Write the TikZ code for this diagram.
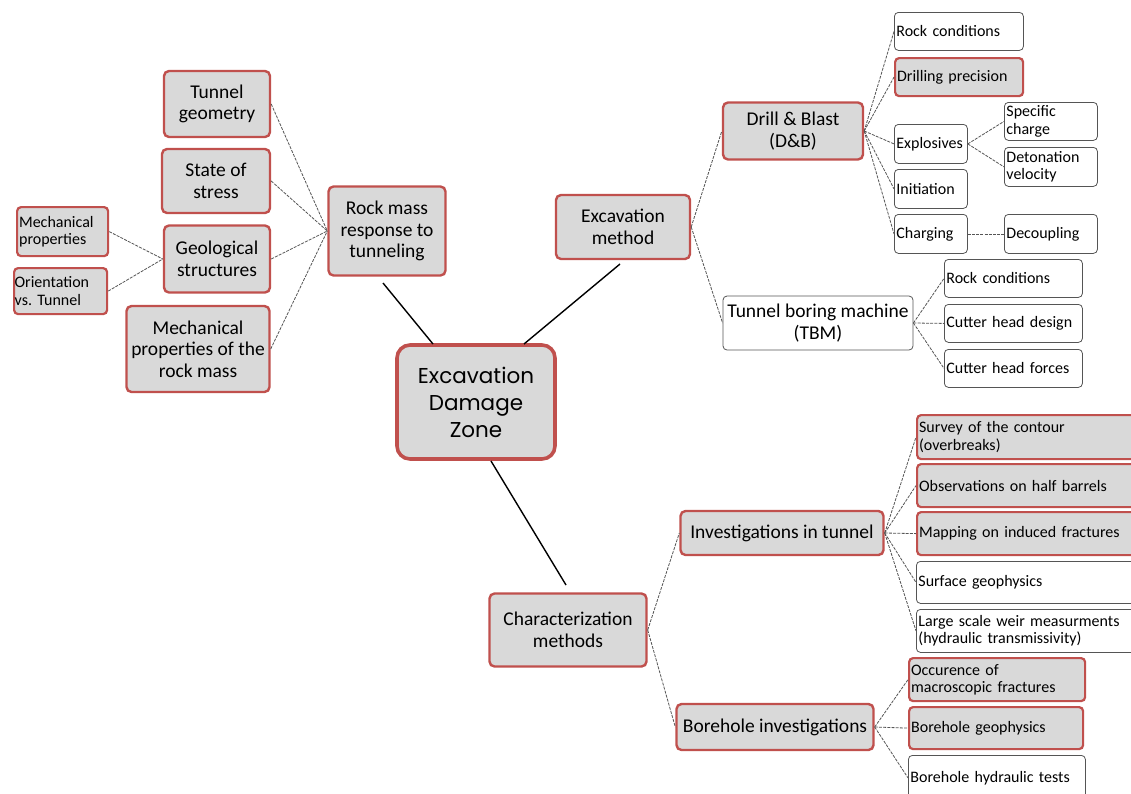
\documentclass[tikz,border=0pt]{standalone}
\usepackage{fontspec}
\setmainfont{Carlito}
\newfontfamily\zonefont{Poppins}
\usetikzlibrary{calc}

\definecolor{edzred}{RGB}{192,80,77}
\definecolor{edzgray}{RGB}{217,217,217}
\definecolor{edzline}{RGB}{85,85,85}

\tikzset{
  every node/.style={font=\fontsize{19.5}{21.5}\selectfont},
  hubsize/.style 2 args={minimum width=#1, minimum height=#2},
  boxsize/.style 2 args={text width=#1, minimum height=#2},
  topic/.style={draw=edzred, line width=2.4pt, fill=edzgray, rounded corners=5pt,
    align=center, inner sep=1pt},
  plaintopic/.style={draw=edzline, line width=0.8pt, fill=white, rounded corners=4pt,
    align=center, inner sep=1pt},
  redleaf/.style={draw=edzred, line width=2.2pt, fill=edzgray, rounded corners=4pt,
    anchor=north west, align=left, inner xsep=2pt, inner ysep=1pt,
    font=\fontsize{16}{17.5}\selectfont},
  whiteleaf/.style={draw=edzline, line width=0.8pt, fill=white, rounded corners=4pt,
    anchor=north west, align=left, inner xsep=2pt, inner ysep=1pt,
    font=\fontsize{16}{17.5}\selectfont},
  link/.style={edzline, line width=0.8pt, dash pattern=on 3pt off 1.2pt},
  trunk/.style={black, line width=1.4pt}
}

\begin{document}
\begin{tikzpicture}[x=1pt, y=-1pt]
  % Bounding box fixe (taille de l'image)
  \path[use as bounding box] (0,0) rectangle (1131,793);
  \fill[white] (0,0) rectangle (1131,793);

  % Central topic.
  \node[draw=edzred, line width=3.6pt, fill=edzgray, rounded corners=13pt,
    align=center, hubsize={158pt}{114pt},
    font=\zonefont\fontsize{21.5}{27}\selectfont] (edz) at (476,402)
    {Excavation\\Damage\\Zone};

  % Rock mass response branch.
  \node[topic, hubsize={117pt}{89pt}] (rmr) at (387,231) {Rock mass\\response to\\tunneling};
  \node[topic, hubsize={106pt}{66pt}] (geom) at (217,104) {Tunnel\\geometry};
  \node[topic, hubsize={108pt}{64pt}] (stress) at (216,181) {State of\\stress};
  \node[topic, hubsize={106pt}{67pt}] (geol) at (217,259) {Geological\\structures};
  \node[topic, hubsize={143pt}{86pt}] (mechrm) at (198,349) {Mechanical\\properties of the\\rock mass};
  \node[redleaf, boxsize={87pt}{49pt}] (mechp) at (16,206) {Mechanical\\properties};
  \node[redleaf, boxsize={92pt}{46pt}, inner xsep=0.5pt] (orient) at (13,267) {Orientation\\vs.\ Tunnel};

  % Excavation method branch.
  \node[topic, hubsize={134pt}{64pt}] (exc) at (623,227) {Excavation\\method};
  \node[topic, hubsize={140pt}{57pt}] (db) at (793,131) {Drill \& Blast\\(D\&B)};
  \node[whiteleaf, boxsize={125pt}{38pt}] (rc1) at (894,12) {Rock conditions};
  \node[redleaf, boxsize={124pt}{38pt}] (drill) at (894,57) {Drilling precision};
  \node[whiteleaf, boxsize={69pt}{39pt}] (expl) at (894,124) {Explosives};
  \node[whiteleaf, boxsize={89pt}{38pt}] (spec) at (1004,102) {Specific\\charge};
  \node[whiteleaf, boxsize={89pt}{39pt}] (deton) at (1004,147) {Detonation\\velocity};
  \node[whiteleaf, boxsize={69pt}{39pt}] (init) at (894,169) {Initiation};
  \node[whiteleaf, boxsize={69pt}{39pt}] (charg) at (894,214) {Charging};
  \node[whiteleaf, boxsize={89pt}{39pt}] (decoup) at (1004,214) {Decoupling};
  \node[plaintopic, hubsize={190pt}{54pt}] (tbm) at (818,323) {Tunnel boring machine\\(TBM)};
  \node[whiteleaf, boxsize={134pt}{38pt}] (rc2) at (944,259) {Rock conditions};
  \node[whiteleaf, boxsize={134pt}{38pt}] (chd) at (944,304) {Cutter head design};
  \node[whiteleaf, boxsize={134pt}{38pt}] (chf) at (944,349) {Cutter head forces};

  % Characterization branch.
  \node[topic, hubsize={157pt}{73pt}] (char) at (568,630) {Characterization\\methods};
  \node[topic, hubsize={203pt}{44pt}] (invt) at (782,533) {Investigations in tunnel};
  \node[redleaf, boxsize={226pt}{44pt}] (surv) at (916,414) {Survey of the contour\\(overbreaks)};
  \node[redleaf, boxsize={226pt}{43pt}] (obs) at (916,463) {Observations on half barrels};
  \node[redleaf, boxsize={226pt}{43pt}] (mapf) at (916,511) {Mapping on induced fractures};
  \node[whiteleaf, boxsize={226pt}{42pt}] (surfg) at (916,561) {Surface geophysics};
  \node[whiteleaf, boxsize={226pt}{43pt}] (weir) at (916,609) {Large scale weir measurments\\(hydraulic transmissivity)};
  \node[topic, hubsize={197pt}{46pt}] (bore) at (775,727) {Borehole investigations};
  \node[redleaf, boxsize={172pt}{43pt}] (occ) at (908,657) {Occurence of\\macroscopic fractures};
  \node[redleaf, boxsize={170pt}{42pt}] (bgeo) at (908,706) {Borehole geophysics};
  \node[whiteleaf, boxsize={173pt}{45pt}] (bhyd) at (908,755) {Borehole hydraulic tests};

  % Trunks from the central topic.
  \coordinate (edzA) at (433,344);
  \coordinate (edzB) at (524,344);
  \coordinate (edzC) at (491,461);
  \coordinate (rmrA) at (383,283);
  \coordinate (excA) at (620,264);
  \coordinate (charA) at (566,585);
  \draw[trunk] (edzA) -- (rmrA);
  \draw[trunk] (edzB) -- (excA);
  \draw[trunk] (edzC) -- (charA);

  % Links.
  \foreach \n in {geom,stress,geol,mechrm} \draw[link] (\n.east) -- (rmr.west);
  \foreach \n in {mechp,orient} \draw[link] (\n.east) -- (geol.west);
  \foreach \n in {db,tbm} \draw[link] (exc.east) -- (\n.west);
  \foreach \n in {rc1,drill,expl,init,charg} \draw[link] (db.east) -- (\n.west);
  \foreach \n in {spec,deton} \draw[link] (expl.east) -- (\n.west);
  \draw[link] (charg.east) -- (decoup.west);
  \foreach \n in {rc2,chd,chf} \draw[link] (tbm.east) -- (\n.west);
  \foreach \n in {invt,bore} \draw[link] (char.east) -- (\n.west);
  \foreach \n in {surv,obs,mapf,surfg,weir} \draw[link] (invt.east) -- (\n.west);
  \foreach \n in {occ,bgeo,bhyd} \draw[link] (bore.east) -- (\n.west);
\end{tikzpicture}
\end{document}
